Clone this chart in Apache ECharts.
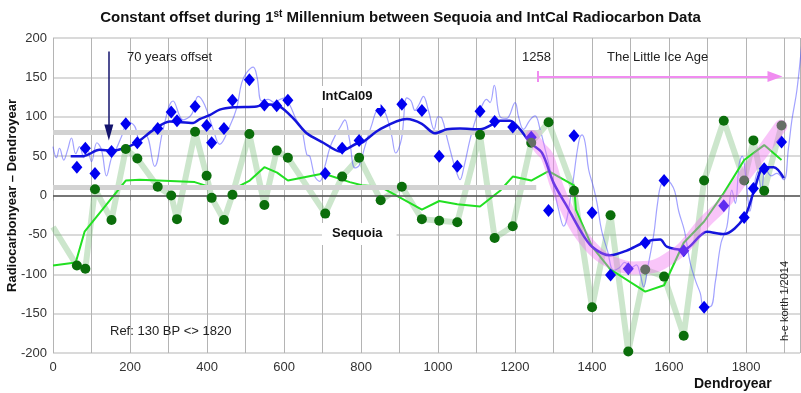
<!DOCTYPE html>
<html lang="en">
<head>
<meta charset="UTF-8">
<title>Sequoia vs IntCal</title>
<script src="https://cdn.jsdelivr.net/npm/echarts@6/dist/echarts.min.js"></script>
<style>
  html, body { margin: 0; padding: 0; background: #fff; }
  #main { width: 801px; height: 393px; }
</style>
</head>
<body>
<div id="main"></div>
<script>
// dendro years of the samples (shared by Sequoia dots and IntCal diamonds)
var years = [62,84,109,152,189,219,272,307,322,369,399,412,444,466,510,549,581,610,707,751,795,851,906,958,1003,1050,1109,1147,1194,1242,1287,1353,1400,1448,1494,1538,1587,1638,1691,1742,1795,1819,1847,1892];
var sequoia = [-89,-93,8,-31,59,47,11,0,-30,81,25,-3,-31,1,78,-12,57,48,-23,24,48,-6,11,-30,-32,-34,77,-54,-39,67,93,6,-142,-25,-198,-94,-103,-178,19,95,19,70,6,89];
var intcal = [36,60,28,56,91,67,85,106,95,113,89,67,85,121,147,115,114,121,28,60,70,108,116,108,50,37,107,94,87,74,-19,76,-22,-101,-93,-60,19,-70,-142,-13,-28,9,34,68];

// Sequoia zig-zag starts at the left edge
var sequoiaStartYear = 0;
var sequoiaStartValue = -40;

// smoothed Sequoia (bright green)
var seqSmoothYears = [0,59,82,189,225,368,407,468,511,549,582,610,702,771,802,851,958,1003,1050,1109,1161,1194,1242,1287,1353,1358,1400,1448,1538,1587,1638,1691,1742,1795,1847,1892];
var seqSmoothValues = [-89,-85,-46,19,20,17,11,8,19,36,29,19,28,17,13,11,-18,-7,-11,-14,6,24,19,31,13,-18,-65,-94,-122,-114,-60,-33,3,45,64,45];

// smoothed IntCal (dark blue)
var icSmoothYears = [46,78,121,152,178,217,260,303,364,381,407,433,468,529,550,589,624,659,702,745,789,802,849,919,958,992,1023,1057,1109,1152,1161,1187,1213,1239,1270,1300,1335,1369,1400,1447,1490,1538,1577,1594,1638,1698,1742,1794,1820,1846,1872,1898];
var icSmoothValues = [50,50,58,57,59,67,83,94,92,97,102,109,112,113,116,113,98,79,67,56,66,67,84,97,91,79,84,85,84,93,95,95,84,67,54,16,-14,-44,-65,-76,-70,-59,-56,-65,-69,-46,-49,-29,5,36,36,22];

// IntCal09 raw curve (thin light blue)
var rawYears = [0,9,17,28,38,48,59,69,80,89,100,114,126,139,152,165,178,195,212,225,241,264,286,312,338,360,377,394,416,433,459,477,490,503,520,530,542,559,575,589,602,615,630,646,659,667,680,693,705,720,735,745,758,770,784,795,810,828,845,858,870,880,890,905,919,930,940,950,962,975,990,1000,1010,1025,1040,1049,1057,1068,1083,1100,1113,1126,1135,1146,1161,1178,1200,1209,1222,1239,1252,1265,1280,1291,1303,1313,1326,1347,1365,1374,1382,1391,1404,1413,1425,1440,1456,1470,1485,1500,1515,1525,1534,1545,1560,1570,1580,1594,1605,1615,1625,1640,1655,1670,1681,1690,1707,1720,1735,1750,1763,1772,1782,1790,1800,1810,1820,1830,1840,1850,1865,1880,1898,1910,1919,1932,1945];
var rawValues = [62,48,60,45,58,73,53,62,48,60,43,67,58,25,48,60,75,93,88,71,76,37,84,120,96,103,126,115,84,65,88,111,143,156,163,150,120,122,118,122,124,115,98,84,52,50,24,18,35,62,78,86,96,71,35,38,62,90,109,108,95,75,54,72,124,120,108,115,126,108,84,100,98,70,42,28,20,38,71,100,113,122,118,140,100,98,118,100,84,96,101,84,55,33,5,-18,-39,7,67,77,67,33,10,-10,-45,-70,-95,-92,-85,-92,-88,-100,-116,-90,-50,-10,15,20,15,5,-20,-45,-86,-110,-124,-141,-141,-110,-60,-40,7,-10,40,50,20,-20,10,30,5,35,25,28,20,60,96,134,195];

// Little Ice Age trend (pink band)
var liaYears = [1243,1265,1283,1309,1335,1369,1413,1456,1508,1560,1600,1638,1690,1742,1794,1846,1890];
var liaValues = [75,60,50,11,-18,-48,-73,-86,-92,-90,-80,-66,-35,-10,24,58,88];

// 70 years offset reference levels
var offsetLevels = [80, 11];
var offsetEndYear = 1270;

function pairs(xs, ys) {
    return xs.map(function (x, i) { return [x, ys[i]]; });
}

var chart = echarts.init(document.getElementById('main'));

var option = {
    animation: false,
    textStyle: { fontFamily: 'Liberation Sans, Arial, sans-serif' },
    title: {
        text: '{b|Constant offset during 1}{s|st}{b| Millennium between Sequoia and IntCal Radiocarbon Data}',
        left: 'center',
        top: 4,
        textStyle: {
            rich: {
                b: { fontWeight: 'bold', fontSize: 15, color: '#111', lineHeight: 18, fontFamily: 'Liberation Sans' },
                s: { fontWeight: 'bold', fontSize: 10, color: '#111', lineHeight: 18, verticalAlign: 'top', fontFamily: 'Liberation Sans' }
            }
        }
    },
    grid: { left: 53, right: 1, top: 38, bottom: 40, outerBoundsMode: 'none', containLabel: false },
    xAxis: {
        type: 'value',
        min: 0,
        max: 1940,
        interval: 100,
        axisLine: { show: false },
        axisTick: { show: true, length: 5, lineStyle: { color: '#999' } },
        axisLabel: {
            color: '#333',
            fontSize: 13,
            margin: 8,
            showMaxLabel: false,
            formatter: function (v) { return v % 200 === 0 ? v : ''; }
        },
        splitLine: { lineStyle: { color: '#b4b4b4', width: 1 } }
    },
    yAxis: {
        type: 'value',
        min: -200,
        max: 200,
        interval: 50,
        name: 'Radiocarbonyear \u2013 Dendroyear',
        nameLocation: 'middle',
        nameGap: 34,
        nameMoveOverlap: false,
        nameTextStyle: { fontWeight: 'bold', fontSize: 13, color: '#111' },
        axisLine: { show: false },
        axisTick: { show: false },
        axisLabel: { color: '#333', fontSize: 13, margin: 6 },
        splitLine: { lineStyle: { color: '#dadada', width: 2 } }
    },
    series: [
        {
            name: 'refs',
            type: 'line',
            data: [],
            z: 1,
            markLine: {
                silent: true,
                symbol: 'none',
                label: { show: false },
                data: [
                    [{ coord: [0, offsetLevels[0]], lineStyle: { color: '#d2d2d2', width: 5, type: 'solid' } }, { coord: [offsetEndYear, offsetLevels[0]] }],
                    [{ coord: [0, offsetLevels[1]], lineStyle: { color: '#d2d2d2', width: 5, type: 'solid' } }, { coord: [offsetEndYear - 15, offsetLevels[1]] }],
                    { yAxis: 0, lineStyle: { color: '#555', width: 1.5, type: 'solid' } }
                ]
            }
        },
        {
            name: 'IntCal09 raw',
            type: 'line',
            data: pairs(rawYears, rawValues),
            smooth: 0.4,
            showSymbol: false,
            lineStyle: { color: 'rgba(70,70,255,0.5)', width: 1.2 },
            z: 3
        },
        {
            name: 'Sequoia path',
            type: 'line',
            data: [[sequoiaStartYear, sequoiaStartValue]].concat(pairs(years, sequoia)),
            showSymbol: false,
            lineStyle: { color: 'rgba(120,190,120,0.38)', width: 6 },
            z: 2
        },
        {
            name: 'Sequoia smooth',
            type: 'line',
            data: pairs(seqSmoothYears, seqSmoothValues),
            showSymbol: false,
            lineStyle: { color: '#22e022', width: 2 },
            z: 4
        },
        {
            name: 'IntCal09 smooth',
            type: 'line',
            data: pairs(icSmoothYears, icSmoothValues),
            smooth: 0.3,
            showSymbol: false,
            lineStyle: { color: '#1414dc', width: 2.5 },
            z: 5
        },
        {
            name: 'IntCal09',
            type: 'scatter',
            data: pairs(years, intcal),
            symbol: 'diamond',
            symbolSize: [11, 13],
            itemStyle: { color: '#0000f0', opacity: 1 },
            z: 6
        },
        {
            name: 'Sequoia',
            type: 'scatter',
            data: pairs(years, sequoia),
            symbol: 'circle',
            symbolSize: 10,
            itemStyle: { color: '#0b6e0b', opacity: 1 },
            z: 6
        },
        {
            name: 'Little Ice Age',
            type: 'line',
            data: pairs(liaYears, liaValues),
            smooth: 0.4,
            showSymbol: false,
            lineStyle: { color: 'rgba(240,110,240,0.4)', width: 13, cap: 'round' },
            z: 7,
            markLine: {
                silent: true,
                label: { show: false },
                data: [
                    [
                        { coord: [145, 183], symbol: 'none', lineStyle: { color: '#14146e', width: 1.5, type: 'solid' } },
                        { coord: [145, 80], symbol: 'triangle', symbolSize: [9, 16], symbolRotate: 180 }
                    ],
                    [
                        { coord: [1258, 151], symbol: 'none', lineStyle: { color: '#f08cf0', width: 2, type: 'solid' } },
                        { coord: [1875, 151], symbol: 'triangle', symbolSize: [11, 15], symbolRotate: -90 }
                    ],
                    [
                        { coord: [1258, 144], symbol: 'none', lineStyle: { color: '#f08cf0', width: 2, type: 'solid' } },
                        { coord: [1258, 158], symbol: 'none' }
                    ]
                ]
            }
        }
    ],
    graphic: [
        { type: 'text', left: 127, top: 51, z: 100, style: { text: '70 years offset', font: '13px Liberation Sans', fill: '#222' } },
        { type: 'text', left: 314, top: 86, z: 100, style: { text: 'IntCal09', font: 'bold 13px Liberation Sans', fill: '#111', backgroundColor: '#fff', padding: [4, 8, 5, 8] } },
        { type: 'text', left: 322, top: 223, z: 100, style: { text: 'Sequoia', font: 'bold 13px Liberation Sans', fill: '#111', backgroundColor: '#fff', padding: [4, 14, 5, 10] } },
        { type: 'text', left: 522, top: 51, z: 100, style: { text: '1258', font: '13px Liberation Sans', fill: '#222' } },
        { type: 'text', left: 607, top: 51, z: 100, style: { text: 'The Little Ice Age', font: '13px Liberation Sans', fill: '#222' } },
        { type: 'text', left: 110, top: 325, z: 100, style: { text: 'Ref: 130 BP <> 1820', font: '13px Liberation Sans', fill: '#222' } },
        { type: 'text', x: 785, y: 301, rotation: Math.PI / 2, z: 100, style: { text: 'h-e korth 1/2014', font: '11px Liberation Sans', fill: '#222', align: 'center', verticalAlign: 'middle' } },
        { type: 'text', left: 694, top: 377, z: 100, style: { text: 'Dendroyear', font: 'bold 14px Liberation Sans', fill: '#111' } }
    ]
};

chart.setOption(option);
</script>
</body>
</html>
